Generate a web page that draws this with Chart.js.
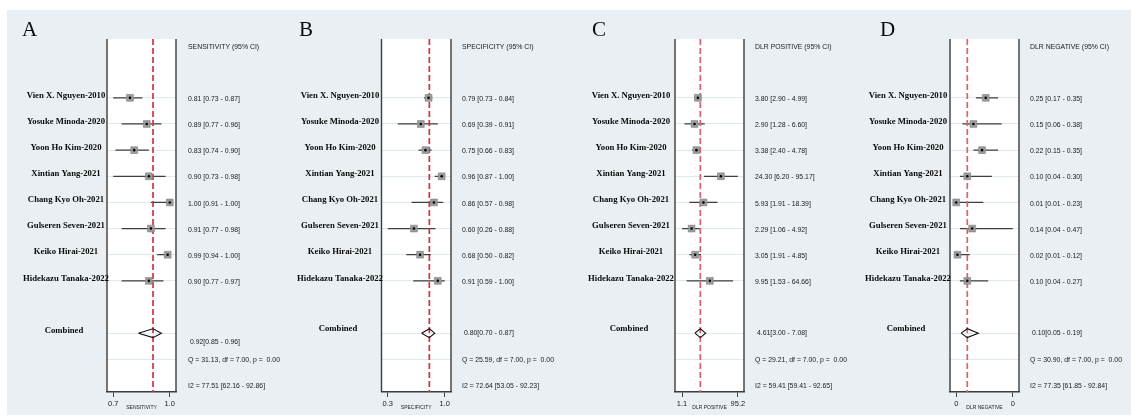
<!DOCTYPE html>
<html>
<head>
<meta charset="utf-8">
<script src="https://cdn.jsdelivr.net/npm/chart.js@4.4.0/dist/chart.umd.min.js"></script>
<style>
  body { margin: 0; background: #fff; }
  #wrap { position: relative; width: 1131px; height: 416px; }
  #bg { position: absolute; left: 7px; top: 10px; right: 0; bottom: 1px; background: #e9eff2; }
  canvas { position: absolute; left: 0; top: 0; }
</style>
</head>
<body>
<div id="wrap">
  <div id="bg"></div>
  <canvas id="Canvas1" width="1131" height="416"></canvas>
  <canvas id="Canvas2" width="1131" height="416"></canvas>
  <canvas id="Canvas3" width="1131" height="416"></canvas>
  <canvas id="Canvas4" width="1131" height="416"></canvas>
</div>
<script>
var studies = ["Vien X. Nguyen-2010", "Yosuke Minoda-2020", "Yoon Ho Kim-2020", "Xintian Yang-2021",
               "Chang Kyo Oh-2021", "Gulseren Seven-2021", "Keiko Hirai-2021", "Hidekazu Tanaka-2022"];

// sensitivity
var sensEst  = [0.81, 0.89, 0.83, 0.90, 1.00, 0.91, 0.99, 0.90];
var sensLow  = [0.73, 0.77, 0.74, 0.73, 0.91, 0.77, 0.94, 0.77];
var sensHigh = [0.87, 0.96, 0.90, 0.98, 1.00, 0.98, 1.00, 0.97];
var sensPooled = [0.92, 0.85, 0.96];
var sensQ = [31.13, 7.00, 0.00];
var sensI2 = [77.51, 62.16, 92.86];

// specificity
var specEst  = [0.79, 0.69, 0.75, 0.96, 0.86, 0.60, 0.68, 0.91];
var specLow  = [0.73, 0.39, 0.66, 0.87, 0.57, 0.26, 0.50, 0.59];
var specHigh = [0.84, 0.91, 0.83, 1.00, 0.98, 0.88, 0.82, 1.00];
var specPooled = [0.80, 0.70, 0.87];
var specQ = [25.59, 7.00, 0.00];
var specI2 = [72.64, 53.05, 92.23];

// positive likelihood ratio
var dlrpEst  = [3.80, 2.90, 3.38, 24.30, 5.93, 2.29, 3.05, 9.95];
var dlrpLow  = [2.90, 1.28, 2.40, 6.20, 1.91, 1.06, 1.91, 1.53];
var dlrpHigh = [4.99, 6.60, 4.78, 95.17, 18.39, 4.92, 4.85, 64.66];
var dlrpPooled = [4.61, 3.00, 7.08];
var dlrpQ = [29.21, 7.00, 0.00];
var dlrpI2 = [59.41, 59.41, 92.65];

// negative likelihood ratio
var dlrnEst  = [0.25, 0.15, 0.22, 0.10, 0.01, 0.14, 0.02, 0.10];
var dlrnLow  = [0.17, 0.06, 0.15, 0.04, 0.01, 0.04, 0.01, 0.04];
var dlrnHigh = [0.35, 0.38, 0.35, 0.30, 0.23, 0.47, 0.12, 0.27];
var dlrnPooled = [0.10, 0.05, 0.19];
var dlrnQ = [30.90, 7.00, 0.00];
var dlrnI2 = [77.35, 61.85, 92.84];

var W = 1131;

function f2(v) { return v.toFixed(2); }

// narrow sans text, a bit taller than its width suggests
function narrowText(c, t, x, y) {
    c.save();
    c.translate(x, y);
    c.scale(0.86, 1);
    c.fillText(t, 0, 0);
    c.restore();
}

function forestPanel(id, p) {
    var rows = studies.map(function (s, i) { return i + 2; });
    var combRow = 11, qRow = 12, i2Row = 13;
    var lo = Math.min.apply(null, p.low), hi = Math.max.apply(null, p.high);
    var min, max, pad;
    if (p.log) {
        var a = Math.log10(lo), b = Math.log10(hi);
        pad = (b - a) * 0.11;
        min = Math.pow(10, a - pad); max = Math.pow(10, b + pad);
    } else {
        pad = (hi - lo) * 0.11;
        min = lo - pad; max = hi + pad;
    }

    var ci = [];
    p.est.forEach(function (v, i) {
        ci.push({x: p.low[i], y: rows[i]}, {x: p.high[i], y: rows[i]}, {x: null, y: null});
    });
    var pts = p.est.map(function (v, i) { return {x: v, y: rows[i]}; });
    var pe = p.pooled[0], pl = p.pooled[1], ph = p.pooled[2];
    var diamond = [{x: pl, y: combRow}, {x: pe, y: combRow - 0.17}, {x: ph, y: combRow},
                   {x: pe, y: combRow + 0.17}, {x: pl, y: combRow}];
    var refLine = [{x: pe, y: -0.25}, {x: pe, y: 13.25}];

    var textPlugin = {
        id: 'forestText',
        beforeDraw: function (chart) {
            var c = chart.ctx, a = chart.chartArea;
            c.save();
            c.fillStyle = '#fff';
            c.fillRect(a.left, a.top, a.right - a.left, a.bottom - a.top);
            c.restore();
        },
        afterDraw: function (chart) {
            var c = chart.ctx, a = chart.chartArea, ys = chart.scales.y;
            c.save();
            // box sides
            c.strokeStyle = '#3c3c3c';
            c.lineWidth = 1.4;
            c.beginPath();
            c.moveTo(a.left, a.top); c.lineTo(a.left, a.bottom);
            c.moveTo(a.right, a.top); c.lineTo(a.right, a.bottom);
            c.stroke();

            // panel letter
            c.fillStyle = '#0a0a0a';
            c.font = '21px "Liberation Serif"';
            c.textAlign = 'left';
            c.textBaseline = 'alphabetic';
            c.fillText(p.letter, p.letterX, 35.5);

            // study names
            c.font = 'bold 8.7px "Liberation Serif"';
            c.textAlign = 'center';
            c.textBaseline = 'middle';
            studies.forEach(function (s, i) {
                c.fillText(s, p.nameX, ys.getPixelForValue(rows[i]) - 2.5);
            });
            c.fillText('Combined', p.nameX - 2, ys.getPixelForValue(combRow) - 2.5 + p.combNameDy);

            // estimates column
            c.font = '8px "Liberation Sans"';
            c.textAlign = 'left';
            c.fillStyle = '#1a1a1a';
            narrowText(c, p.header, p.textX, ys.getPixelForValue(0) + 1.5);
            p.est.forEach(function (v, i) {
                narrowText(c, f2(v) + ' [' + f2(p.low[i]) + ' - ' + f2(p.high[i]) + ']',
                           p.textX, ys.getPixelForValue(rows[i]) + 1);
            });
            narrowText(c, ' ' + f2(pe) + '[' + f2(pl) + ' - ' + f2(ph) + ']',
                       p.textX, ys.getPixelForValue(combRow) + p.combDy);
            narrowText(c, 'Q = ' + f2(p.q[0]) + ', df = ' + f2(p.q[1]) + ', p =  ' + f2(p.q[2]),
                       p.textX, ys.getPixelForValue(qRow));
            narrowText(c, 'I2 = ' + f2(p.i2[0]) + ' [' + f2(p.i2[1]) + ' - ' + f2(p.i2[2]) + ']',
                       p.textX, ys.getPixelForValue(i2Row));
            c.restore();
        }
    };

    return new Chart(document.getElementById(id).getContext('2d'), {
        type: 'scatter',
        data: {
            datasets: [{
                data: pts,
                pointStyle: 'circle',
                pointRadius: 1.3,
                backgroundColor: '#000',
                borderWidth: 0
            }, {
                data: pts,
                pointStyle: 'rect',
                pointRadius: 4.8,
                backgroundColor: '#9c9c9c',
                borderColor: '#808080',
                borderWidth: 0.6
            }, {
                data: diamond,
                showLine: true,
                pointRadius: 0,
                borderColor: '#111',
                borderWidth: 1.1,
                fill: false
            }, {
                data: refLine,
                showLine: true,
                pointRadius: 0,
                borderColor: p.refColor,
                borderWidth: 1.7,
                borderDash: [6, 3]
            }, {
                data: ci,
                showLine: true,
                spanGaps: false,
                pointRadius: 0,
                borderColor: '#3e3e3e',
                borderWidth: 1.25
            }]
        },
        options: {
            responsive: false,
            animation: false,
            events: [],
            layout: { padding: { left: p.boxL, right: W - p.boxR, top: 39, bottom: 0 } },
            plugins: { legend: { display: false }, tooltip: { enabled: false } },
            scales: {
                x: {
                    type: p.log ? 'logarithmic' : 'linear',
                    min: min,
                    max: max,
                    afterFit: function (s) { s.height = 24; },
                    afterBuildTicks: function (s) { s.ticks = [{value: lo}, {value: hi}]; },
                    ticks: {
                        autoSkip: false,
                        maxRotation: 0,
                        padding: 2,
                        color: '#222',
                        font: { family: 'Liberation Sans', size: 7.5 },
                        callback: function (v) { return Number(v).toFixed(p.dec); }
                    },
                    grid: { drawOnChartArea: false, drawTicks: true, tickLength: 5, color: '#444', lineWidth: 1 },
                    border: { display: true, color: '#3c3c3c', width: 1.4 },
                    title: {
                        display: true,
                        text: p.axis,
                        color: '#222',
                        font: { family: 'Liberation Sans', size: 5 },
                        padding: { top: 0, bottom: 5 }
                    }
                },
                y: {
                    type: 'linear',
                    reverse: true,
                    min: -0.25,
                    max: 13.25,
                    afterFit: function (s) { s.width = 0; },
                    afterBuildTicks: function (s) {
                        s.ticks = rows.concat([combRow, qRow]).map(function (r) { return {value: r}; });
                    },
                    ticks: { display: false },
                    grid: { color: '#dde9ed', lineWidth: 1, drawTicks: false },
                    border: { display: false }
                }
            }
        },
        plugins: [textPlugin]
    });
}

forestPanel('Canvas1', {
    letter: 'A', header: 'SENSITIVITY (95% CI)', axis: 'SENSITIVITY', refColor: '#d5303f',
    est: sensEst, low: sensLow, high: sensHigh, pooled: sensPooled, q: sensQ, i2: sensI2,
    log: false, dec: 1, boxL: 107, boxR: 176, nameX: 66, textX: 188, letterX: 22, combDy: 9, combNameDy: 0
});
forestPanel('Canvas2', {
    letter: 'B', header: 'SPECIFICITY (95% CI)', axis: 'SPECIFICITY', refColor: '#d5303f',
    est: specEst, low: specLow, high: specHigh, pooled: specPooled, q: specQ, i2: specI2,
    log: false, dec: 1, boxL: 381.5, boxR: 451, nameX: 340, textX: 462, letterX: 299, combDy: 0, combNameDy: -2
});
forestPanel('Canvas3', {
    letter: 'C', header: 'DLR POSITIVE (95% CI)', axis: 'DLR POSITIVE', refColor: '#dd5f70',
    est: dlrpEst, low: dlrpLow, high: dlrpHigh, pooled: dlrpPooled, q: dlrpQ, i2: dlrpI2,
    log: true, dec: 1, boxL: 675, boxR: 744, nameX: 631, textX: 755, letterX: 592, combDy: 0, combNameDy: -2
});
forestPanel('Canvas4', {
    letter: 'D', header: 'DLR NEGATIVE (95% CI)', axis: 'DLR NEGATIVE', refColor: '#dd5f70',
    est: dlrnEst, low: dlrnLow, high: dlrnHigh, pooled: dlrnPooled, q: dlrnQ, i2: dlrnI2,
    log: false, dec: 0, boxL: 950, boxR: 1019, nameX: 908, textX: 1030, letterX: 880, combDy: 0, combNameDy: -2
});
</script>
</body>
</html>
